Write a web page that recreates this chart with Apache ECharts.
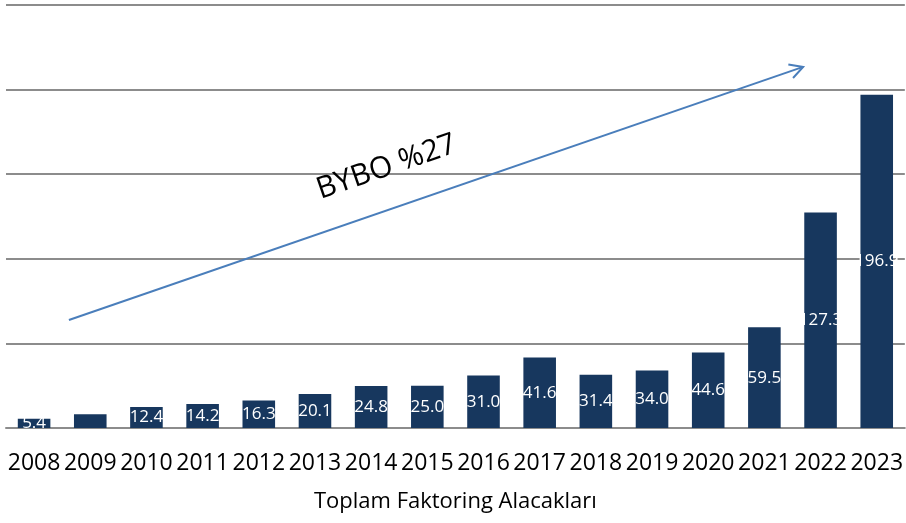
<!DOCTYPE html>
<html><head><meta charset="utf-8">
<script src="https://cdn.jsdelivr.net/npm/echarts@6/dist/echarts.min.js"></script>
<style>html,body{margin:0;padding:0;background:#fff}#c{width:906px;height:523px}</style>
</head><body><div id="c"></div>
<script>
var years = ['2008','2009','2010','2011','2012','2013','2014','2015','2016','2017','2018','2019','2020','2021','2022','2023'];
var values = [5.4, 8.1, 12.4, 14.2, 16.3, 20.1, 24.8, 25.0, 31.0, 41.6, 31.4, 34.0, 44.6, 59.5, 127.3, 196.9];
var showLabel = [true, false, true, true, true, true, true, true, true, true, true, true, true, true, true, true];
var axisTitle = 'Toplam Faktoring Alacakları';
var trendText = 'BYBO %27';
var trendStart = [0.62, 63.8];
var trendEnd = [13.69, 213.4];

var chart = echarts.init(document.getElementById('c'), null, {renderer:'canvas'});
var font = '"Open Sans", sans-serif';
chart.setOption({
  animation:false,
  grid:{left:6, right:0, top:5, bottom:95},
  xAxis:{
    type:'category', data:years,
    axisTick:{show:false},
    axisLine:{lineStyle:{color:'#8c8c8c', width:2}},
    axisLabel:{interval:0, color:'#000', fontFamily:font, fontSize:23, margin:24},
    name:axisTitle, nameLocation:'middle', nameGap:63,
    nameTextStyle:{color:'#000', fontFamily:font, fontSize:22}
  },
  yAxis:{
    type:'value', min:0, max:250, interval:50,
    axisLabel:{show:false}, axisLine:{show:false}, axisTick:{show:false},
    splitLine:{lineStyle:{color:'#8c8c8c', width:2}}
  },
  series:[{
    type:'bar', barWidth:'58%',
    data: values.map(function(v,i){return {value:v, label:{show:showLabel[i]}};}),
    itemStyle:{color:'#17375E'},
    label:{show:true, position:'inside', color:'#fff', fontFamily:font, fontSize:17,
      formatter:function(p){return p.value.toFixed(1);}}
  }]
});

function toPx(pt){
  var i0 = Math.floor(pt[0]);
  var p0 = chart.convertToPixel({gridIndex:0}, [i0, pt[1]]);
  var p1 = chart.convertToPixel({gridIndex:0}, [i0+1, pt[1]]);
  var f = pt[0]-i0;
  return [p0[0]+(p1[0]-p0[0])*f, p0[1]];
}
var a = toPx(trendStart);
var b = toPx(trendEnd);
var ang = Math.atan2(b[1]-a[1], b[0]-a[0]);
var L = 15, spread = 0.5;
var h1 = [b[0]-L*Math.cos(ang-spread), b[1]-L*Math.sin(ang-spread)];
var h2 = [b[0]-L*Math.cos(ang+spread), b[1]-L*Math.sin(ang+spread)];
var mid = [a[0]+(b[0]-a[0])*0.43, a[1]+(b[1]-a[1])*0.43];
chart.setOption({
  graphic:[
    {type:'polyline', shape:{points:[a,b]}, style:{stroke:'#4A7EBB', lineWidth:2, fill:null}, z:100},
    {type:'polyline', shape:{points:[h1,b,h2]}, style:{stroke:'#4A7EBB', lineWidth:2, fill:null}, z:100},
    {type:'text', x:mid[0]+2, y:mid[1]-44, rotation:-ang, style:{text:trendText, fill:'#000', font:'30px "Open Sans", sans-serif', textAlign:'center', textVerticalAlign:'middle'}, z:100}
  ]
});
</script></body></html>
